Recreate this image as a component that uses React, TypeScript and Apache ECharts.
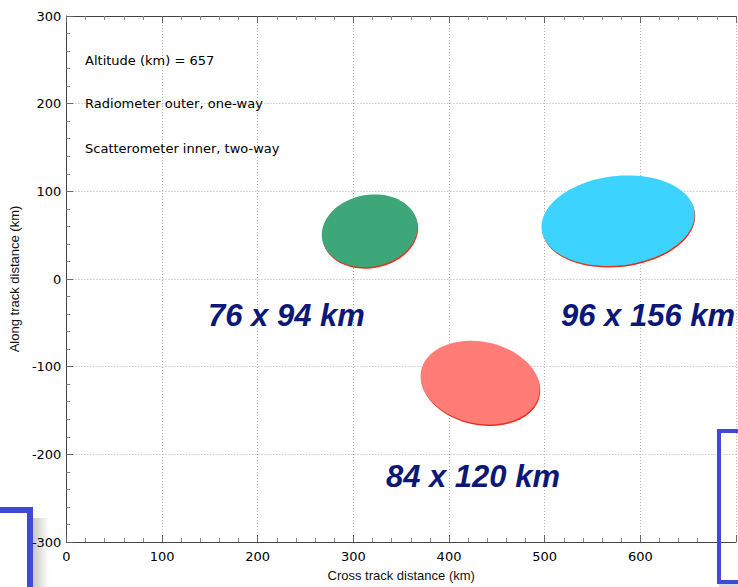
import React, { useEffect, useRef } from "react";
import * as echarts from "echarts";

// Footprint ellipses (data units, km)
const footprintCenterX = [317, 432.5, 576.7];
const footprintCenterY = [55, -118.2, 66.5];
const footprintSemiMajor = [50.6, 63.2, 80.5];
const footprintSemiMinor = [40.8, 46.4, 50.9];
const footprintTiltDeg = [15, -15, 8.1];

// Footprint size labels
const sizeLabels = ["76 x 94 km", "96 x 156 km", "84 x 120 km"];
const sizeLabelX = [230, 608, 425];
const sizeLabelY = [-42, -42, -225];

// Notes in the upper left
const noteTexts = ["Altitude (km) = 657", "Radiometer outer, one-way", "Scatterometer inner, two-way"];
const noteX = [19.5, 19.5, 19.5];
const noteY = [249, 200, 149];

// Axis ranges
const xMin = 0, xMax = 700, xStep = 100;
const yMin = -300, yMax = 300, yStep = 100;

const fillColors = ["#3ea77a", "#ff7c77", "#3cd4fe"];
const shadowColor = "#e3311f";
const navy = "#0c1877";
const bracketBlue = "#3f4bd6";

export default function App() {
  const ref = useRef<HTMLDivElement>(null);
  useEffect(() => {
    document.body.style.margin = "0";
    const chart = echarts.init(ref.current!, null, { renderer: "svg" });
    const ellipseData = footprintCenterX.map((x, i) => [
      x, footprintCenterY[i], footprintSemiMajor[i], footprintSemiMinor[i], footprintTiltDeg[i],
    ]);
    const axisCommon = {
      type: "value" as const,
      axisLine: { show: true, onZero: false, lineStyle: { color: "#444", width: 1 } },
      axisTick: { show: true, inside: true, length: 7, lineStyle: { color: "#666" } },
      minorTick: { show: true, splitNumber: 5, length: 4, lineStyle: { color: "#888" } },
      splitLine: { show: true, lineStyle: { color: "#b0b0b0", type: [1, 2], width: 1 } },
    };
    chart.setOption({
      animation: false,
      backgroundColor: "#fff",
      grid: { left: 66, top: 16, right: 2, bottom: 43, containLabel: false },
      xAxis: [
        {
          ...axisCommon,
          position: "bottom",
          min: xMin, max: xMax, interval: xStep,
          name: "Cross track distance (km)",
          nameLocation: "middle",
          nameGap: 27,
          nameTextStyle: { fontFamily: "Liberation Sans", fontSize: 13, color: "#111" },
          axisLabel: { showMaxLabel: false, margin: 8, fontFamily: "DejaVu Sans", fontSize: 13, color: "#000" },
        },
        {
          ...axisCommon,
          position: "top",
          min: xMin, max: xMax, interval: xStep,
          axisLabel: { show: false },
          splitLine: { show: false },
        },
      ],
      yAxis: [
        {
          ...axisCommon,
          position: "left",
          min: yMin, max: yMax, interval: yStep,
          name: "Along track distance (km)",
          nameLocation: "middle",
          nameGap: 40,
          nameRotate: 90,
          nameTextStyle: { fontFamily: "Liberation Sans", fontSize: 13, color: "#111" },
          axisLabel: { margin: 5, fontFamily: "DejaVu Sans", fontSize: 13, color: "#000" },
        },
      ],
      series: [
        {
          type: "custom",
          xAxisIndex: 0,
          yAxisIndex: 0,
          data: ellipseData,
          renderItem: (params: any, api: any) => {
            const cx = api.value(0), cy = api.value(1), a = api.value(2), b = api.value(3);
            const th = (api.value(4) * Math.PI) / 180;
            const pts: number[][] = [];
            const n = 96;
            for (let i = 0; i < n; i++) {
              const t = (i / n) * 2 * Math.PI;
              const dx = a * Math.cos(t), dy = b * Math.sin(t);
              pts.push(api.coord([cx + dx * Math.cos(th) - dy * Math.sin(th), cy + dx * Math.sin(th) + dy * Math.cos(th)]));
            }
            const shadow = pts.map((p) => [p[0] + 0.6, p[1] + 1.5]);
            return {
              type: "group",
              children: [
                { type: "polygon", shape: { points: shadow }, style: { fill: shadowColor } },
                { type: "polygon", shape: { points: pts }, style: { fill: fillColors[params.dataIndex] } },
              ],
            };
          },
        },
        {
          type: "scatter",
          symbolSize: 0,
          silent: true,
          itemStyle: { opacity: 1 },
          data: sizeLabels.map((s, i) => ({ value: [sizeLabelX[i], sizeLabelY[i]], name: s })),
          label: {
            show: true,
            position: "inside",
            opacity: 1,
            formatter: (p: any) => p.name,
            fontFamily: "Liberation Sans",
            fontWeight: "bold",
            fontStyle: "italic",
            fontSize: 31,
            color: navy,
            textBorderWidth: 0,
          },
        },
        {
          type: "scatter",
          symbolSize: 0,
          silent: true,
          itemStyle: { opacity: 1 },
          data: noteTexts.map((s, i) => ({ value: [noteX[i], noteY[i]], name: s })),
          label: {
            show: true,
            position: "right",
            distance: 0,
            opacity: 1,
            formatter: (p: any) => p.name,
            fontFamily: "DejaVu Sans",
            fontSize: 13,
            color: "#000",
          },
        },
      ],
      graphic: [
        {
          type: "rect",
          shape: { x: 33, y: 518, width: 16, height: 69 },
          style: {
            fill: new echarts.graphic.LinearGradient(0, 0, 1, 0, [
              { offset: 0, color: "rgba(0,0,0,0.22)" },
              { offset: 1, color: "rgba(0,0,0,0)" },
            ]),
          },
          z: 100,
        },
        { type: "rect", shape: { x: 0, y: 507, width: 33, height: 6 }, style: { fill: bracketBlue }, z: 101 },
        { type: "rect", shape: { x: 27, y: 507, width: 6, height: 80 }, style: { fill: bracketBlue }, z: 101 },
        {
          type: "rect",
          shape: { x: 719, y: 584, width: 19, height: 3 },
          style: { fill: "rgba(0,0,0,0.15)" },
          z: 100,
        },
        { type: "rect", shape: { x: 717, y: 429, width: 21, height: 4 }, style: { fill: bracketBlue }, z: 101 },
        { type: "rect", shape: { x: 717, y: 429, width: 4, height: 155 }, style: { fill: bracketBlue }, z: 101 },
        { type: "rect", shape: { x: 717, y: 580, width: 21, height: 4 }, style: { fill: bracketBlue }, z: 101 },
      ],
    });
    return () => chart.dispose();
  }, []);
  return <div ref={ref} style={{ width: 738, height: 587 }} />;
}
